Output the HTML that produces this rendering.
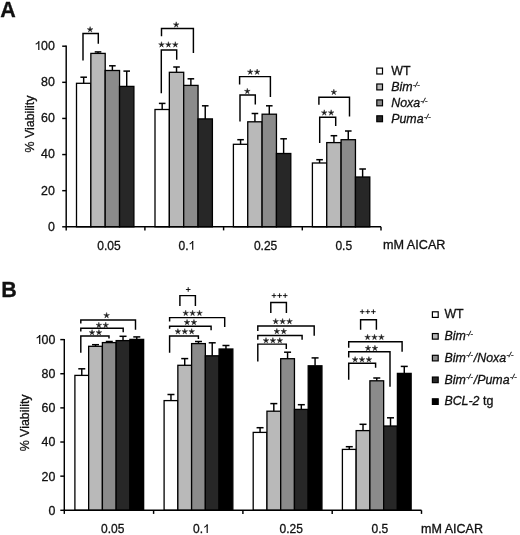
<!DOCTYPE html>
<html><head><meta charset="utf-8"><style>
html,body{margin:0;padding:0;background:#fff;overflow:hidden;}
svg{display:block;will-change:transform;}
text{font-family:"Liberation Sans",sans-serif;fill:#111;stroke:#111;stroke-width:0.3px;}
</style></head><body>
<svg width="520" height="535" viewBox="0 0 520 535">
<rect width="520" height="535" fill="#fff"/>
<rect x="76.50" y="83.30" width="14.35" height="143.50" fill="#ffffff" stroke="#000" stroke-width="1.3"/>
<line x1="83.67" y1="77.20" x2="83.67" y2="83.30" stroke="#000" stroke-width="1.45"/>
<line x1="80.38" y1="77.20" x2="86.97" y2="77.20" stroke="#000" stroke-width="1.5"/>
<rect x="90.85" y="53.40" width="14.35" height="173.40" fill="#b9b9b9" stroke="#000" stroke-width="1.3"/>
<line x1="98.02" y1="51.90" x2="98.02" y2="53.40" stroke="#000" stroke-width="1.45"/>
<line x1="94.72" y1="51.90" x2="101.32" y2="51.90" stroke="#000" stroke-width="1.5"/>
<rect x="105.20" y="70.50" width="14.35" height="156.30" fill="#8b8b8b" stroke="#000" stroke-width="1.3"/>
<line x1="112.38" y1="65.80" x2="112.38" y2="70.50" stroke="#000" stroke-width="1.45"/>
<line x1="109.08" y1="65.80" x2="115.67" y2="65.80" stroke="#000" stroke-width="1.5"/>
<rect x="119.55" y="86.40" width="14.35" height="140.40" fill="#272727" stroke="#000" stroke-width="1.3"/>
<line x1="126.72" y1="71.10" x2="126.72" y2="86.40" stroke="#000" stroke-width="1.45"/>
<line x1="123.42" y1="71.10" x2="130.03" y2="71.10" stroke="#000" stroke-width="1.5"/>
<rect x="155.00" y="109.50" width="14.35" height="117.30" fill="#ffffff" stroke="#000" stroke-width="1.3"/>
<line x1="162.18" y1="103.40" x2="162.18" y2="109.50" stroke="#000" stroke-width="1.45"/>
<line x1="158.88" y1="103.40" x2="165.48" y2="103.40" stroke="#000" stroke-width="1.5"/>
<rect x="169.35" y="72.30" width="14.35" height="154.50" fill="#b9b9b9" stroke="#000" stroke-width="1.3"/>
<line x1="176.53" y1="67.00" x2="176.53" y2="72.30" stroke="#000" stroke-width="1.45"/>
<line x1="173.22" y1="67.00" x2="179.83" y2="67.00" stroke="#000" stroke-width="1.5"/>
<rect x="183.70" y="85.40" width="14.35" height="141.40" fill="#8b8b8b" stroke="#000" stroke-width="1.3"/>
<line x1="190.88" y1="78.80" x2="190.88" y2="85.40" stroke="#000" stroke-width="1.45"/>
<line x1="187.57" y1="78.80" x2="194.18" y2="78.80" stroke="#000" stroke-width="1.5"/>
<rect x="198.05" y="118.90" width="14.35" height="107.90" fill="#272727" stroke="#000" stroke-width="1.3"/>
<line x1="205.23" y1="105.80" x2="205.23" y2="118.90" stroke="#000" stroke-width="1.45"/>
<line x1="201.93" y1="105.80" x2="208.53" y2="105.80" stroke="#000" stroke-width="1.5"/>
<rect x="233.40" y="144.30" width="14.35" height="82.50" fill="#ffffff" stroke="#000" stroke-width="1.3"/>
<line x1="240.58" y1="139.70" x2="240.58" y2="144.30" stroke="#000" stroke-width="1.45"/>
<line x1="237.28" y1="139.70" x2="243.88" y2="139.70" stroke="#000" stroke-width="1.5"/>
<rect x="247.75" y="121.80" width="14.35" height="105.00" fill="#b9b9b9" stroke="#000" stroke-width="1.3"/>
<line x1="254.93" y1="113.50" x2="254.93" y2="121.80" stroke="#000" stroke-width="1.45"/>
<line x1="251.62" y1="113.50" x2="258.23" y2="113.50" stroke="#000" stroke-width="1.5"/>
<rect x="262.10" y="114.20" width="14.35" height="112.60" fill="#8b8b8b" stroke="#000" stroke-width="1.3"/>
<line x1="269.28" y1="105.80" x2="269.28" y2="114.20" stroke="#000" stroke-width="1.45"/>
<line x1="265.98" y1="105.80" x2="272.58" y2="105.80" stroke="#000" stroke-width="1.5"/>
<rect x="276.45" y="153.50" width="14.35" height="73.30" fill="#272727" stroke="#000" stroke-width="1.3"/>
<line x1="283.62" y1="138.80" x2="283.62" y2="153.50" stroke="#000" stroke-width="1.45"/>
<line x1="280.32" y1="138.80" x2="286.93" y2="138.80" stroke="#000" stroke-width="1.5"/>
<rect x="312.40" y="163.00" width="14.35" height="63.80" fill="#ffffff" stroke="#000" stroke-width="1.3"/>
<line x1="319.57" y1="159.70" x2="319.57" y2="163.00" stroke="#000" stroke-width="1.45"/>
<line x1="316.27" y1="159.70" x2="322.88" y2="159.70" stroke="#000" stroke-width="1.5"/>
<rect x="326.75" y="142.60" width="14.35" height="84.20" fill="#b9b9b9" stroke="#000" stroke-width="1.3"/>
<line x1="333.93" y1="135.70" x2="333.93" y2="142.60" stroke="#000" stroke-width="1.45"/>
<line x1="330.62" y1="135.70" x2="337.23" y2="135.70" stroke="#000" stroke-width="1.5"/>
<rect x="341.10" y="139.70" width="14.35" height="87.10" fill="#8b8b8b" stroke="#000" stroke-width="1.3"/>
<line x1="348.27" y1="131.00" x2="348.27" y2="139.70" stroke="#000" stroke-width="1.45"/>
<line x1="344.97" y1="131.00" x2="351.57" y2="131.00" stroke="#000" stroke-width="1.5"/>
<rect x="355.45" y="177.00" width="14.35" height="49.80" fill="#272727" stroke="#000" stroke-width="1.3"/>
<line x1="362.62" y1="169.00" x2="362.62" y2="177.00" stroke="#000" stroke-width="1.45"/>
<line x1="359.32" y1="169.00" x2="365.93" y2="169.00" stroke="#000" stroke-width="1.5"/>
<line x1="66.20" y1="45.60" x2="66.20" y2="230.40" stroke="#000" stroke-width="1.45"/>
<line x1="65.60" y1="226.80" x2="381.00" y2="226.80" stroke="#000" stroke-width="1.45"/>
<line x1="62.20" y1="46.20" x2="66.20" y2="46.20" stroke="#000" stroke-width="1.45"/>
<text x="54.90" y="50.10" font-size="12.4" text-anchor="end" >00</text>
<path d="M38.80,41.22 V50.10" stroke="#111" stroke-width="1.24" fill="none"/>
<path d="M39.05,41.47 Q37.68,43.21 35.70,44.26" stroke="#111" stroke-width="1.05" fill="none"/>
<line x1="62.20" y1="82.32" x2="66.20" y2="82.32" stroke="#000" stroke-width="1.45"/>
<text x="54.90" y="86.22" font-size="12.4" text-anchor="end" >80</text>
<line x1="62.20" y1="118.44" x2="66.20" y2="118.44" stroke="#000" stroke-width="1.45"/>
<text x="54.90" y="122.34" font-size="12.4" text-anchor="end" >60</text>
<line x1="62.20" y1="154.56" x2="66.20" y2="154.56" stroke="#000" stroke-width="1.45"/>
<text x="54.90" y="158.46" font-size="12.4" text-anchor="end" >40</text>
<line x1="62.20" y1="190.68" x2="66.20" y2="190.68" stroke="#000" stroke-width="1.45"/>
<text x="54.90" y="194.58" font-size="12.4" text-anchor="end" >20</text>
<line x1="62.20" y1="226.80" x2="66.20" y2="226.80" stroke="#000" stroke-width="1.45"/>
<text x="54.90" y="230.70" font-size="12.4" text-anchor="end" >0</text>
<line x1="144.90" y1="226.80" x2="144.90" y2="230.40" stroke="#000" stroke-width="1.45"/>
<line x1="223.60" y1="226.80" x2="223.60" y2="230.40" stroke="#000" stroke-width="1.45"/>
<line x1="302.30" y1="226.80" x2="302.30" y2="230.40" stroke="#000" stroke-width="1.45"/>
<line x1="381.00" y1="226.80" x2="381.00" y2="230.40" stroke="#000" stroke-width="1.45"/>
<text x="97.30" y="249.70" font-size="12" text-anchor="start" >0.05</text>
<text x="178.60" y="249.70" font-size="12" text-anchor="start" >0.</text>
<text x="253.90" y="249.70" font-size="12" text-anchor="start" >0.25</text>
<text x="335.40" y="249.70" font-size="12" text-anchor="start" >0.5</text>
<path d="M192.70,241.11 V249.70" stroke="#111" stroke-width="1.20" fill="none"/>
<path d="M192.94,241.35 Q191.62,243.03 189.70,244.05" stroke="#111" stroke-width="1.02" fill="none"/>
<text x="383.00" y="248.80" font-size="12" text-anchor="start" textLength="62.5" lengthAdjust="spacingAndGlyphs">mM AICAR</text>
<text transform="translate(34.0,124.0) rotate(-90)" font-size="12.4" text-anchor="middle">% Viability</text>
<path d="M83.00,60.40 V33.40 H98.30 V43.70" fill="none" stroke="#000" stroke-width="1.45" stroke-linejoin="miter" stroke-linecap="butt"/>
<polygon points="90.10,26.60 90.69,28.79 92.95,28.67 91.05,29.91 91.86,32.03 90.10,30.60 88.34,32.03 89.15,29.91 87.25,28.67 89.51,28.79" fill="#1a1a1a" stroke="#1a1a1a" stroke-width="0.45" stroke-linejoin="round"/>
<path d="M161.50,36.20 V28.50 H193.40 V53.00" fill="none" stroke="#000" stroke-width="1.45" stroke-linejoin="miter" stroke-linecap="butt"/>
<polygon points="176.20,21.80 176.79,23.99 179.05,23.87 177.15,25.11 177.96,27.23 176.20,25.80 174.44,27.23 175.25,25.11 173.35,23.87 175.61,23.99" fill="#1a1a1a" stroke="#1a1a1a" stroke-width="0.45" stroke-linejoin="round"/>
<path d="M161.30,93.20 V49.90 H176.70 V59.70" fill="none" stroke="#000" stroke-width="1.45" stroke-linejoin="miter" stroke-linecap="butt"/>
<polygon points="161.50,41.70 162.09,43.89 164.35,43.77 162.45,45.01 163.26,47.13 161.50,45.70 159.74,47.13 160.55,45.01 158.65,43.77 160.91,43.89" fill="#1a1a1a" stroke="#1a1a1a" stroke-width="0.45" stroke-linejoin="round"/>
<polygon points="168.40,41.70 168.99,43.89 171.25,43.77 169.35,45.01 170.16,47.13 168.40,45.70 166.64,47.13 167.45,45.01 165.55,43.77 167.81,43.89" fill="#1a1a1a" stroke="#1a1a1a" stroke-width="0.45" stroke-linejoin="round"/>
<polygon points="175.30,41.70 175.89,43.89 178.15,43.77 176.25,45.01 177.06,47.13 175.30,45.70 173.54,47.13 174.35,45.01 172.45,43.77 174.71,43.89" fill="#1a1a1a" stroke="#1a1a1a" stroke-width="0.45" stroke-linejoin="round"/>
<path d="M239.60,84.60 V76.60 H270.40 V97.00" fill="none" stroke="#000" stroke-width="1.45" stroke-linejoin="miter" stroke-linecap="butt"/>
<polygon points="250.25,69.00 250.84,71.19 253.10,71.07 251.20,72.31 252.01,74.43 250.25,73.00 248.49,74.43 249.30,72.31 247.40,71.07 249.66,71.19" fill="#1a1a1a" stroke="#1a1a1a" stroke-width="0.45" stroke-linejoin="round"/>
<polygon points="257.15,69.00 257.74,71.19 260.00,71.07 258.10,72.31 258.91,74.43 257.15,73.00 255.39,74.43 256.20,72.31 254.30,71.07 256.56,71.19" fill="#1a1a1a" stroke="#1a1a1a" stroke-width="0.45" stroke-linejoin="round"/>
<path d="M240.00,121.50 V95.00 H255.30 V104.60" fill="none" stroke="#000" stroke-width="1.45" stroke-linejoin="miter" stroke-linecap="butt"/>
<polygon points="247.30,88.30 247.89,90.49 250.15,90.37 248.25,91.61 249.06,93.73 247.30,92.30 245.54,93.73 246.35,91.61 244.45,90.37 246.71,90.49" fill="#1a1a1a" stroke="#1a1a1a" stroke-width="0.45" stroke-linejoin="round"/>
<path d="M318.90,104.80 V97.20 H349.50 V116.60" fill="none" stroke="#000" stroke-width="1.45" stroke-linejoin="miter" stroke-linecap="butt"/>
<polygon points="333.85,89.20 334.44,91.39 336.70,91.27 334.80,92.51 335.61,94.63 333.85,93.20 332.09,94.63 332.90,92.51 331.00,91.27 333.26,91.39" fill="#1a1a1a" stroke="#1a1a1a" stroke-width="0.45" stroke-linejoin="round"/>
<path d="M319.70,143.00 V117.20 H335.70 V126.00" fill="none" stroke="#000" stroke-width="1.45" stroke-linejoin="miter" stroke-linecap="butt"/>
<polygon points="324.25,109.80 324.84,111.99 327.10,111.87 325.20,113.11 326.01,115.23 324.25,113.80 322.49,115.23 323.30,113.11 321.40,111.87 323.66,111.99" fill="#1a1a1a" stroke="#1a1a1a" stroke-width="0.45" stroke-linejoin="round"/>
<polygon points="331.15,109.80 331.74,111.99 334.00,111.87 332.10,113.11 332.91,115.23 331.15,113.80 329.39,115.23 330.20,113.11 328.30,111.87 330.56,111.99" fill="#1a1a1a" stroke="#1a1a1a" stroke-width="0.45" stroke-linejoin="round"/>
<rect x="376.8" y="68.10" width="5.7" height="5.9" fill="#ffffff" stroke="#000" stroke-width="1.2"/>
<text x="391.20" y="75.20" font-size="12.4" text-anchor="start" >WT</text>
<rect x="376.8" y="84.00" width="5.7" height="5.9" fill="#b9b9b9" stroke="#000" stroke-width="1.2"/>
<text x="391.2" y="91.10" font-size="12.4" font-style="italic">Bim<tspan font-size="7.2" dx="0.4" dy="-4.4">-/-</tspan></text>
<rect x="376.8" y="99.90" width="5.7" height="5.9" fill="#8b8b8b" stroke="#000" stroke-width="1.2"/>
<text x="391.2" y="107.00" font-size="12.4" font-style="italic">Noxa<tspan font-size="7.2" dx="0.4" dy="-4.4">-/-</tspan></text>
<rect x="376.8" y="115.80" width="5.7" height="5.9" fill="#272727" stroke="#000" stroke-width="1.2"/>
<text x="391.2" y="122.90" font-size="12.4" font-style="italic">Puma<tspan font-size="7.2" dx="0.4" dy="-4.4">-/-</tspan></text>
<text x="0.2" y="16.7" font-size="21.5" font-weight="bold">A</text>
<rect x="74.90" y="375.40" width="13.75" height="134.90" fill="#ffffff" stroke="#000" stroke-width="1.3"/>
<line x1="81.78" y1="368.80" x2="81.78" y2="375.40" stroke="#000" stroke-width="1.45"/>
<line x1="78.28" y1="368.80" x2="85.28" y2="368.80" stroke="#000" stroke-width="1.5"/>
<rect x="88.65" y="346.30" width="13.75" height="164.00" fill="#b9b9b9" stroke="#000" stroke-width="1.3"/>
<line x1="95.53" y1="344.70" x2="95.53" y2="346.30" stroke="#000" stroke-width="1.45"/>
<line x1="92.03" y1="344.70" x2="99.03" y2="344.70" stroke="#000" stroke-width="1.5"/>
<rect x="102.40" y="342.60" width="13.75" height="167.70" fill="#8b8b8b" stroke="#000" stroke-width="1.3"/>
<line x1="109.28" y1="341.50" x2="109.28" y2="342.60" stroke="#000" stroke-width="1.45"/>
<line x1="105.78" y1="341.50" x2="112.78" y2="341.50" stroke="#000" stroke-width="1.5"/>
<rect x="116.15" y="340.60" width="13.75" height="169.70" fill="#272727" stroke="#000" stroke-width="1.3"/>
<line x1="123.03" y1="336.30" x2="123.03" y2="340.60" stroke="#000" stroke-width="1.45"/>
<line x1="119.53" y1="336.30" x2="126.53" y2="336.30" stroke="#000" stroke-width="1.5"/>
<rect x="129.90" y="339.40" width="13.75" height="170.90" fill="#000000" stroke="#000" stroke-width="1.3"/>
<line x1="136.78" y1="336.90" x2="136.78" y2="339.40" stroke="#000" stroke-width="1.45"/>
<line x1="133.28" y1="336.90" x2="140.28" y2="336.90" stroke="#000" stroke-width="1.5"/>
<rect x="164.10" y="400.60" width="13.75" height="109.70" fill="#ffffff" stroke="#000" stroke-width="1.3"/>
<line x1="170.97" y1="394.50" x2="170.97" y2="400.60" stroke="#000" stroke-width="1.45"/>
<line x1="167.47" y1="394.50" x2="174.47" y2="394.50" stroke="#000" stroke-width="1.5"/>
<rect x="177.85" y="365.30" width="13.75" height="145.00" fill="#b9b9b9" stroke="#000" stroke-width="1.3"/>
<line x1="184.72" y1="358.60" x2="184.72" y2="365.30" stroke="#000" stroke-width="1.45"/>
<line x1="181.22" y1="358.60" x2="188.22" y2="358.60" stroke="#000" stroke-width="1.5"/>
<rect x="191.60" y="343.60" width="13.75" height="166.70" fill="#8b8b8b" stroke="#000" stroke-width="1.3"/>
<line x1="198.47" y1="341.50" x2="198.47" y2="343.60" stroke="#000" stroke-width="1.45"/>
<line x1="194.97" y1="341.50" x2="201.97" y2="341.50" stroke="#000" stroke-width="1.5"/>
<rect x="205.35" y="355.80" width="13.75" height="154.50" fill="#272727" stroke="#000" stroke-width="1.3"/>
<line x1="212.22" y1="342.80" x2="212.22" y2="355.80" stroke="#000" stroke-width="1.45"/>
<line x1="208.72" y1="342.80" x2="215.72" y2="342.80" stroke="#000" stroke-width="1.5"/>
<rect x="219.10" y="349.00" width="13.75" height="161.30" fill="#000000" stroke="#000" stroke-width="1.3"/>
<line x1="225.97" y1="345.50" x2="225.97" y2="349.00" stroke="#000" stroke-width="1.45"/>
<line x1="222.47" y1="345.50" x2="229.47" y2="345.50" stroke="#000" stroke-width="1.5"/>
<rect x="253.20" y="432.40" width="13.75" height="77.90" fill="#ffffff" stroke="#000" stroke-width="1.3"/>
<line x1="260.07" y1="427.70" x2="260.07" y2="432.40" stroke="#000" stroke-width="1.45"/>
<line x1="256.57" y1="427.70" x2="263.57" y2="427.70" stroke="#000" stroke-width="1.5"/>
<rect x="266.95" y="411.20" width="13.75" height="99.10" fill="#b9b9b9" stroke="#000" stroke-width="1.3"/>
<line x1="273.82" y1="403.60" x2="273.82" y2="411.20" stroke="#000" stroke-width="1.45"/>
<line x1="270.32" y1="403.60" x2="277.32" y2="403.60" stroke="#000" stroke-width="1.5"/>
<rect x="280.70" y="358.70" width="13.75" height="151.60" fill="#8b8b8b" stroke="#000" stroke-width="1.3"/>
<line x1="287.57" y1="352.20" x2="287.57" y2="358.70" stroke="#000" stroke-width="1.45"/>
<line x1="284.07" y1="352.20" x2="291.07" y2="352.20" stroke="#000" stroke-width="1.5"/>
<rect x="294.45" y="409.40" width="13.75" height="100.90" fill="#272727" stroke="#000" stroke-width="1.3"/>
<line x1="301.32" y1="404.70" x2="301.32" y2="409.40" stroke="#000" stroke-width="1.45"/>
<line x1="297.82" y1="404.70" x2="304.82" y2="404.70" stroke="#000" stroke-width="1.5"/>
<rect x="308.20" y="365.80" width="13.75" height="144.50" fill="#000000" stroke="#000" stroke-width="1.3"/>
<line x1="315.07" y1="357.90" x2="315.07" y2="365.80" stroke="#000" stroke-width="1.45"/>
<line x1="311.57" y1="357.90" x2="318.57" y2="357.90" stroke="#000" stroke-width="1.5"/>
<rect x="342.40" y="449.40" width="13.75" height="60.90" fill="#ffffff" stroke="#000" stroke-width="1.3"/>
<line x1="349.27" y1="446.70" x2="349.27" y2="449.40" stroke="#000" stroke-width="1.45"/>
<line x1="345.77" y1="446.70" x2="352.77" y2="446.70" stroke="#000" stroke-width="1.5"/>
<rect x="356.15" y="430.60" width="13.75" height="79.70" fill="#b9b9b9" stroke="#000" stroke-width="1.3"/>
<line x1="363.02" y1="424.30" x2="363.02" y2="430.60" stroke="#000" stroke-width="1.45"/>
<line x1="359.52" y1="424.30" x2="366.52" y2="424.30" stroke="#000" stroke-width="1.5"/>
<rect x="369.90" y="380.80" width="13.75" height="129.50" fill="#8b8b8b" stroke="#000" stroke-width="1.3"/>
<line x1="376.77" y1="378.00" x2="376.77" y2="380.80" stroke="#000" stroke-width="1.45"/>
<line x1="373.27" y1="378.00" x2="380.27" y2="378.00" stroke="#000" stroke-width="1.5"/>
<rect x="383.65" y="426.00" width="13.75" height="84.30" fill="#272727" stroke="#000" stroke-width="1.3"/>
<line x1="390.52" y1="417.80" x2="390.52" y2="426.00" stroke="#000" stroke-width="1.45"/>
<line x1="387.02" y1="417.80" x2="394.02" y2="417.80" stroke="#000" stroke-width="1.5"/>
<rect x="397.40" y="373.40" width="13.75" height="136.90" fill="#000000" stroke="#000" stroke-width="1.3"/>
<line x1="404.27" y1="366.40" x2="404.27" y2="373.40" stroke="#000" stroke-width="1.45"/>
<line x1="400.77" y1="366.40" x2="407.77" y2="366.40" stroke="#000" stroke-width="1.5"/>
<line x1="64.30" y1="339.00" x2="64.30" y2="513.90" stroke="#000" stroke-width="1.45"/>
<line x1="63.70" y1="510.30" x2="421.50" y2="510.30" stroke="#000" stroke-width="1.45"/>
<line x1="60.30" y1="339.60" x2="64.30" y2="339.60" stroke="#000" stroke-width="1.45"/>
<text x="55.40" y="344.00" font-size="12.4" text-anchor="end" >00</text>
<path d="M39.70,335.12 V344.00" stroke="#111" stroke-width="1.24" fill="none"/>
<path d="M39.95,335.37 Q38.58,337.11 36.60,338.16" stroke="#111" stroke-width="1.05" fill="none"/>
<line x1="60.30" y1="373.74" x2="64.30" y2="373.74" stroke="#000" stroke-width="1.45"/>
<text x="55.40" y="378.14" font-size="12.4" text-anchor="end" >80</text>
<line x1="60.30" y1="407.88" x2="64.30" y2="407.88" stroke="#000" stroke-width="1.45"/>
<text x="55.40" y="412.28" font-size="12.4" text-anchor="end" >60</text>
<line x1="60.30" y1="442.02" x2="64.30" y2="442.02" stroke="#000" stroke-width="1.45"/>
<text x="55.40" y="446.42" font-size="12.4" text-anchor="end" >40</text>
<line x1="60.30" y1="476.16" x2="64.30" y2="476.16" stroke="#000" stroke-width="1.45"/>
<text x="55.40" y="480.56" font-size="12.4" text-anchor="end" >20</text>
<line x1="60.30" y1="510.30" x2="64.30" y2="510.30" stroke="#000" stroke-width="1.45"/>
<text x="55.40" y="514.70" font-size="12.4" text-anchor="end" >0</text>
<line x1="153.60" y1="510.30" x2="153.60" y2="513.90" stroke="#000" stroke-width="1.45"/>
<line x1="242.90" y1="510.30" x2="242.90" y2="513.90" stroke="#000" stroke-width="1.45"/>
<line x1="332.20" y1="510.30" x2="332.20" y2="513.90" stroke="#000" stroke-width="1.45"/>
<line x1="421.50" y1="510.30" x2="421.50" y2="513.90" stroke="#000" stroke-width="1.45"/>
<text x="101.00" y="533.00" font-size="12" text-anchor="start" >0.05</text>
<text x="193.00" y="533.00" font-size="12" text-anchor="start" >0.</text>
<text x="279.60" y="533.00" font-size="12" text-anchor="start" >0.25</text>
<text x="371.50" y="533.00" font-size="12" text-anchor="start" >0.5</text>
<path d="M207.20,524.41 V533.00" stroke="#111" stroke-width="1.20" fill="none"/>
<path d="M207.44,524.65 Q206.12,526.33 204.20,527.35" stroke="#111" stroke-width="1.02" fill="none"/>
<text x="421.00" y="532.60" font-size="12" text-anchor="start" textLength="62" lengthAdjust="spacingAndGlyphs">mM AICAR</text>
<text transform="translate(29.4,422.9) rotate(-90)" font-size="12.4" text-anchor="middle">% Viability</text>
<path d="M80.80,323.60 V320.00 H135.50 V329.80" fill="none" stroke="#000" stroke-width="1.45" stroke-linejoin="miter" stroke-linecap="butt"/>
<polygon points="106.60,312.50 107.19,314.69 109.45,314.57 107.55,315.81 108.36,317.93 106.60,316.50 104.84,317.93 105.65,315.81 103.75,314.57 106.01,314.69" fill="#1a1a1a" stroke="#1a1a1a" stroke-width="0.45" stroke-linejoin="round"/>
<path d="M80.80,331.40 V328.30 H123.20 V332.30" fill="none" stroke="#000" stroke-width="1.45" stroke-linejoin="miter" stroke-linecap="butt"/>
<polygon points="98.85,322.20 99.44,324.39 101.70,324.27 99.80,325.51 100.61,327.63 98.85,326.20 97.09,327.63 97.90,325.51 96.00,324.27 98.26,324.39" fill="#1a1a1a" stroke="#1a1a1a" stroke-width="0.45" stroke-linejoin="round"/>
<polygon points="105.75,322.20 106.34,324.39 108.60,324.27 106.70,325.51 107.51,327.63 105.75,326.20 103.99,327.63 104.80,325.51 102.90,324.27 105.16,324.39" fill="#1a1a1a" stroke="#1a1a1a" stroke-width="0.45" stroke-linejoin="round"/>
<path d="M80.80,352.80 V336.00 H109.00 V338.40" fill="none" stroke="#000" stroke-width="1.45" stroke-linejoin="miter" stroke-linecap="butt"/>
<polygon points="92.05,329.60 92.64,331.79 94.90,331.67 93.00,332.91 93.81,335.03 92.05,333.60 90.29,335.03 91.10,332.91 89.20,331.67 91.46,331.79" fill="#1a1a1a" stroke="#1a1a1a" stroke-width="0.45" stroke-linejoin="round"/>
<polygon points="98.95,329.60 99.54,331.79 101.80,331.67 99.90,332.91 100.71,335.03 98.95,333.60 97.19,335.03 98.00,332.91 96.10,331.67 98.36,331.79" fill="#1a1a1a" stroke="#1a1a1a" stroke-width="0.45" stroke-linejoin="round"/>
<path d="M179.90,306.00 V295.60 H195.40 V306.00" fill="none" stroke="#000" stroke-width="1.45" stroke-linejoin="miter" stroke-linecap="butt"/>
<line x1="185.90" y1="289.50" x2="190.50" y2="289.50" stroke="#000" stroke-width="0.9"/>
<line x1="188.20" y1="287.20" x2="188.20" y2="291.80" stroke="#000" stroke-width="0.9"/>
<path d="M169.60,321.40 V317.60 H224.70 V327.00" fill="none" stroke="#000" stroke-width="1.45" stroke-linejoin="miter" stroke-linecap="butt"/>
<polygon points="185.70,310.20 186.29,312.39 188.55,312.27 186.65,313.51 187.46,315.63 185.70,314.20 183.94,315.63 184.75,313.51 182.85,312.27 185.11,312.39" fill="#1a1a1a" stroke="#1a1a1a" stroke-width="0.45" stroke-linejoin="round"/>
<polygon points="192.60,310.20 193.19,312.39 195.45,312.27 193.55,313.51 194.36,315.63 192.60,314.20 190.84,315.63 191.65,313.51 189.75,312.27 192.01,312.39" fill="#1a1a1a" stroke="#1a1a1a" stroke-width="0.45" stroke-linejoin="round"/>
<polygon points="199.50,310.20 200.09,312.39 202.35,312.27 200.45,313.51 201.26,315.63 199.50,314.20 197.74,315.63 198.55,313.51 196.65,312.27 198.91,312.39" fill="#1a1a1a" stroke="#1a1a1a" stroke-width="0.45" stroke-linejoin="round"/>
<path d="M169.60,328.80 V326.20 H211.10 V330.20" fill="none" stroke="#000" stroke-width="1.45" stroke-linejoin="miter" stroke-linecap="butt"/>
<polygon points="187.05,319.40 187.64,321.59 189.90,321.47 188.00,322.71 188.81,324.83 187.05,323.40 185.29,324.83 186.10,322.71 184.20,321.47 186.46,321.59" fill="#1a1a1a" stroke="#1a1a1a" stroke-width="0.45" stroke-linejoin="round"/>
<polygon points="193.95,319.40 194.54,321.59 196.80,321.47 194.90,322.71 195.71,324.83 193.95,323.40 192.19,324.83 193.00,322.71 191.10,321.47 193.36,321.59" fill="#1a1a1a" stroke="#1a1a1a" stroke-width="0.45" stroke-linejoin="round"/>
<path d="M169.60,352.70 V336.00 H198.40 V339.00" fill="none" stroke="#000" stroke-width="1.45" stroke-linejoin="miter" stroke-linecap="butt"/>
<polygon points="177.90,328.60 178.49,330.79 180.75,330.67 178.85,331.91 179.66,334.03 177.90,332.60 176.14,334.03 176.95,331.91 175.05,330.67 177.31,330.79" fill="#1a1a1a" stroke="#1a1a1a" stroke-width="0.45" stroke-linejoin="round"/>
<polygon points="184.80,328.60 185.39,330.79 187.65,330.67 185.75,331.91 186.56,334.03 184.80,332.60 183.04,334.03 183.85,331.91 181.95,330.67 184.21,330.79" fill="#1a1a1a" stroke="#1a1a1a" stroke-width="0.45" stroke-linejoin="round"/>
<polygon points="191.70,328.60 192.29,330.79 194.55,330.67 192.65,331.91 193.46,334.03 191.70,332.60 189.94,334.03 190.75,331.91 188.85,330.67 191.11,330.79" fill="#1a1a1a" stroke="#1a1a1a" stroke-width="0.45" stroke-linejoin="round"/>
<path d="M270.80,312.90 V302.50 H286.40 V312.90" fill="none" stroke="#000" stroke-width="1.45" stroke-linejoin="miter" stroke-linecap="butt"/>
<line x1="271.70" y1="295.60" x2="276.30" y2="295.60" stroke="#000" stroke-width="0.9"/>
<line x1="274.00" y1="293.30" x2="274.00" y2="297.90" stroke="#000" stroke-width="0.9"/>
<line x1="277.30" y1="295.60" x2="281.90" y2="295.60" stroke="#000" stroke-width="0.9"/>
<line x1="279.60" y1="293.30" x2="279.60" y2="297.90" stroke="#000" stroke-width="0.9"/>
<line x1="282.90" y1="295.60" x2="287.50" y2="295.60" stroke="#000" stroke-width="0.9"/>
<line x1="285.20" y1="293.30" x2="285.20" y2="297.90" stroke="#000" stroke-width="0.9"/>
<path d="M257.80,331.00 V326.00 H314.20 V335.70" fill="none" stroke="#000" stroke-width="1.45" stroke-linejoin="miter" stroke-linecap="butt"/>
<polygon points="275.70,318.50 276.29,320.69 278.55,320.57 276.65,321.81 277.46,323.93 275.70,322.50 273.94,323.93 274.75,321.81 272.85,320.57 275.11,320.69" fill="#1a1a1a" stroke="#1a1a1a" stroke-width="0.45" stroke-linejoin="round"/>
<polygon points="282.60,318.50 283.19,320.69 285.45,320.57 283.55,321.81 284.36,323.93 282.60,322.50 280.84,323.93 281.65,321.81 279.75,320.57 282.01,320.69" fill="#1a1a1a" stroke="#1a1a1a" stroke-width="0.45" stroke-linejoin="round"/>
<polygon points="289.50,318.50 290.09,320.69 292.35,320.57 290.45,321.81 291.26,323.93 289.50,322.50 287.74,323.93 288.55,321.81 286.65,320.57 288.91,320.69" fill="#1a1a1a" stroke="#1a1a1a" stroke-width="0.45" stroke-linejoin="round"/>
<path d="M257.80,339.70 V335.40 H302.10 V339.70" fill="none" stroke="#000" stroke-width="1.45" stroke-linejoin="miter" stroke-linecap="butt"/>
<polygon points="276.85,328.40 277.44,330.59 279.70,330.47 277.80,331.71 278.61,333.83 276.85,332.40 275.09,333.83 275.90,331.71 274.00,330.47 276.26,330.59" fill="#1a1a1a" stroke="#1a1a1a" stroke-width="0.45" stroke-linejoin="round"/>
<polygon points="283.75,328.40 284.34,330.59 286.60,330.47 284.70,331.71 285.51,333.83 283.75,332.40 281.99,333.83 282.80,331.71 280.90,330.47 283.16,330.59" fill="#1a1a1a" stroke="#1a1a1a" stroke-width="0.45" stroke-linejoin="round"/>
<path d="M257.80,361.50 V344.10 H286.30 V348.90" fill="none" stroke="#000" stroke-width="1.45" stroke-linejoin="miter" stroke-linecap="butt"/>
<polygon points="266.00,337.60 266.59,339.79 268.85,339.67 266.95,340.91 267.76,343.03 266.00,341.60 264.24,343.03 265.05,340.91 263.15,339.67 265.41,339.79" fill="#1a1a1a" stroke="#1a1a1a" stroke-width="0.45" stroke-linejoin="round"/>
<polygon points="272.90,337.60 273.49,339.79 275.75,339.67 273.85,340.91 274.66,343.03 272.90,341.60 271.14,343.03 271.95,340.91 270.05,339.67 272.31,339.79" fill="#1a1a1a" stroke="#1a1a1a" stroke-width="0.45" stroke-linejoin="round"/>
<polygon points="279.80,337.60 280.39,339.79 282.65,339.67 280.75,340.91 281.56,343.03 279.80,341.60 278.04,343.03 278.85,340.91 276.95,339.67 279.21,339.79" fill="#1a1a1a" stroke="#1a1a1a" stroke-width="0.45" stroke-linejoin="round"/>
<path d="M360.60,329.80 V319.80 H376.40 V329.80" fill="none" stroke="#000" stroke-width="1.45" stroke-linejoin="miter" stroke-linecap="butt"/>
<line x1="359.90" y1="311.70" x2="364.50" y2="311.70" stroke="#000" stroke-width="0.9"/>
<line x1="362.20" y1="309.40" x2="362.20" y2="314.00" stroke="#000" stroke-width="0.9"/>
<line x1="365.50" y1="311.70" x2="370.10" y2="311.70" stroke="#000" stroke-width="0.9"/>
<line x1="367.80" y1="309.40" x2="367.80" y2="314.00" stroke="#000" stroke-width="0.9"/>
<line x1="371.10" y1="311.70" x2="375.70" y2="311.70" stroke="#000" stroke-width="0.9"/>
<line x1="373.40" y1="309.40" x2="373.40" y2="314.00" stroke="#000" stroke-width="0.9"/>
<path d="M348.70,347.80 V341.70 H402.10 V351.70" fill="none" stroke="#000" stroke-width="1.45" stroke-linejoin="miter" stroke-linecap="butt"/>
<polygon points="367.60,334.30 368.19,336.49 370.45,336.37 368.55,337.61 369.36,339.73 367.60,338.30 365.84,339.73 366.65,337.61 364.75,336.37 367.01,336.49" fill="#1a1a1a" stroke="#1a1a1a" stroke-width="0.45" stroke-linejoin="round"/>
<polygon points="374.50,334.30 375.09,336.49 377.35,336.37 375.45,337.61 376.26,339.73 374.50,338.30 372.74,339.73 373.55,337.61 371.65,336.37 373.91,336.49" fill="#1a1a1a" stroke="#1a1a1a" stroke-width="0.45" stroke-linejoin="round"/>
<polygon points="381.40,334.30 381.99,336.49 384.25,336.37 382.35,337.61 383.16,339.73 381.40,338.30 379.64,339.73 380.45,337.61 378.55,336.37 380.81,336.49" fill="#1a1a1a" stroke="#1a1a1a" stroke-width="0.45" stroke-linejoin="round"/>
<path d="M348.70,357.60 V351.70 H390.00 V386.70" fill="none" stroke="#000" stroke-width="1.45" stroke-linejoin="miter" stroke-linecap="butt"/>
<polygon points="368.05,345.30 368.64,347.49 370.90,347.37 369.00,348.61 369.81,350.73 368.05,349.30 366.29,350.73 367.10,348.61 365.20,347.37 367.46,347.49" fill="#1a1a1a" stroke="#1a1a1a" stroke-width="0.45" stroke-linejoin="round"/>
<polygon points="374.95,345.30 375.54,347.49 377.80,347.37 375.90,348.61 376.71,350.73 374.95,349.30 373.19,350.73 374.00,348.61 372.10,347.37 374.36,347.49" fill="#1a1a1a" stroke="#1a1a1a" stroke-width="0.45" stroke-linejoin="round"/>
<path d="M348.70,379.80 V363.20 H375.60 V367.70" fill="none" stroke="#000" stroke-width="1.45" stroke-linejoin="miter" stroke-linecap="butt"/>
<polygon points="355.10,356.60 355.69,358.79 357.95,358.67 356.05,359.91 356.86,362.03 355.10,360.60 353.34,362.03 354.15,359.91 352.25,358.67 354.51,358.79" fill="#1a1a1a" stroke="#1a1a1a" stroke-width="0.45" stroke-linejoin="round"/>
<polygon points="362.00,356.60 362.59,358.79 364.85,358.67 362.95,359.91 363.76,362.03 362.00,360.60 360.24,362.03 361.05,359.91 359.15,358.67 361.41,358.79" fill="#1a1a1a" stroke="#1a1a1a" stroke-width="0.45" stroke-linejoin="round"/>
<polygon points="368.90,356.60 369.49,358.79 371.75,358.67 369.85,359.91 370.66,362.03 368.90,360.60 367.14,362.03 367.95,359.91 366.05,358.67 368.31,358.79" fill="#1a1a1a" stroke="#1a1a1a" stroke-width="0.45" stroke-linejoin="round"/>
<rect x="432.4" y="311.80" width="5.8" height="5.6" fill="#ffffff" stroke="#000" stroke-width="1.2"/>
<text x="444.4" y="318.30" font-size="12.4"><tspan>WT</tspan></text>
<rect x="432.4" y="333.55" width="5.8" height="5.6" fill="#b9b9b9" stroke="#000" stroke-width="1.2"/>
<text x="444.4" y="340.05" font-size="12.4"><tspan font-style="italic">Bim<tspan font-size="7.2" dx="0.4" dy="-4.4">-/-</tspan></tspan></text>
<rect x="432.4" y="355.30" width="5.8" height="5.6" fill="#8b8b8b" stroke="#000" stroke-width="1.2"/>
<text x="444.4" y="361.80" font-size="12.4"><tspan font-style="italic">Bim<tspan font-size="7.2" dx="0.4" dy="-4.4">-/-</tspan><tspan dx="0.8" dy="4.4">/Noxa</tspan><tspan font-size="7.2" dx="0.4" dy="-4.4">-/-</tspan></tspan></text>
<rect x="432.4" y="377.05" width="5.8" height="5.6" fill="#272727" stroke="#000" stroke-width="1.2"/>
<text x="444.4" y="383.55" font-size="12.4"><tspan font-style="italic">Bim<tspan font-size="7.2" dx="0.4" dy="-4.4">-/-</tspan><tspan dx="0.8" dy="4.4">/Puma</tspan><tspan font-size="7.2" dx="0.4" dy="-4.4">-/-</tspan></tspan></text>
<rect x="432.4" y="398.80" width="5.8" height="5.6" fill="#000000" stroke="#000" stroke-width="1.2"/>
<text x="444.4" y="405.30" font-size="12.4"><tspan font-style="italic">BCL-2</tspan> tg</text>
<text x="1.3" y="296.6" font-size="21.5" font-weight="bold">B</text>
</svg>
</body></html>
